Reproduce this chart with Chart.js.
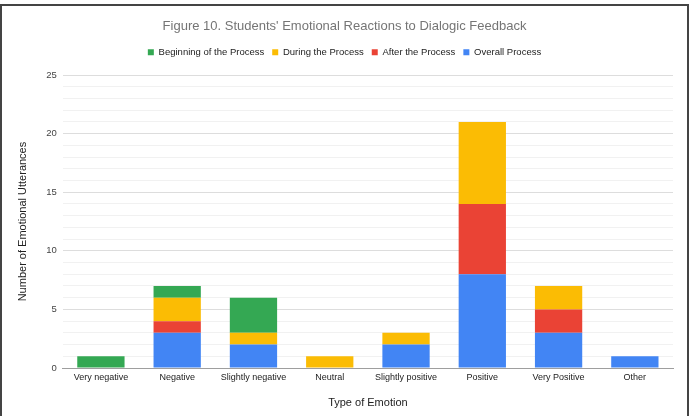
<!DOCTYPE html>
<html>
<head>
<meta charset="utf-8">
<script src="https://cdn.jsdelivr.net/npm/chart.js@4"></script>
<style>
  html, body { margin: 0; padding: 0; background: #fff; }
  #wrap { position: relative; width: 691px; height: 416px; }
  #frame {
    position: absolute; left: 0; top: 4px; width: 685px; height: 412px;
    border: 2px solid #444; border-bottom: none; pointer-events: none;
  }
</style>
</head>
<body>
<div id="wrap">
  <canvas id="emotion-chart" width="691" height="416"></canvas>
  <div id="frame"></div>
</div>
<script>
const categories = ['Very negative', 'Negative', 'Slightly negative', 'Neutral',
  'Slightly positive', 'Positive', 'Very Positive', 'Other'];

// stacked bottom to top: overall, after, during, beginning
const overallProcess = [0, 3, 2, 0, 2, 8, 3, 1];
const afterProcess = [0, 1, 0, 0, 0, 6, 2, 0];
const duringProcess = [0, 2, 1, 1, 1, 7, 2, 0];
const beginningProcess = [1, 1, 3, 0, 0, 0, 0, 0];

const yTicks = [0, 5, 10, 15, 20, 25];

const fontFamily = '"Liberation Sans", Arial, sans-serif';

// a bit of extra room below the legend
const legendMargin = {
    id: 'legendMargin',
    beforeInit(chart) {
        const fit = chart.legend.fit;
        chart.legend.fit = function() {
            fit.bind(chart.legend)();
            this.height += 8;
        };
    }
};

function initializeChart() {
    const ctx = document.getElementById('emotion-chart').getContext('2d');
    new Chart(ctx, {
        type: 'bar',
        data: {
            labels: categories,
            datasets: [
                { label: 'Beginning of the Process', data: beginningProcess, backgroundColor: '#34A853', order: 4 },
                { label: 'During the Process', data: duringProcess, backgroundColor: '#FBBC04', order: 3 },
                { label: 'After the Process', data: afterProcess, backgroundColor: '#EA4335', order: 2 },
                { label: 'Overall Process', data: overallProcess, backgroundColor: '#4285F4', order: 1 }
            ]
        },
        options: {
            responsive: false,
            animation: false,
            layout: {
                padding: { left: 16, right: 18, top: 10, bottom: 6 }
            },
            datasets: {
                bar: {
                    barPercentage: 0.62,
                    categoryPercentage: 1,
                    borderWidth: 0
                }
            },
            scales: {
                x: {
                    stacked: true,
                    grid: { display: false, drawTicks: false },
                    border: { color: '#9e9e9e', width: 1 },
                    ticks: { color: '#222', font: { family: fontFamily, size: 9 }, padding: 4, maxRotation: 0, autoSkip: false },
                    title: {
                        display: true,
                        text: 'Type of Emotion',
                        color: '#222',
                        font: { family: fontFamily, size: 11 },
                        padding: { top: 10, bottom: 0 }
                    }
                },
                y: {
                    stacked: true,
                    min: yTicks[0],
                    max: yTicks[yTicks.length - 1],
                    border: { display: false },
                    grid: {
                        drawTicks: false,
                        color: c => c.tick.value === 0 ? '#9e9e9e' : (c.tick.value % 5 === 0 ? '#dddddd' : '#f1f1f1'),
                        lineWidth: 1
                    },
                    ticks: {
                        stepSize: 1,
                        autoSkip: false,
                        padding: 6,
                        color: '#444',
                        font: { family: fontFamily, size: 9.5 },
                        callback: v => yTicks.includes(v) ? v : ''
                    },
                    title: {
                        display: true,
                        text: 'Number of Emotional Utterances',
                        color: '#222',
                        font: { family: fontFamily, size: 11 },
                        padding: { top: 0, bottom: 11 }
                    }
                }
            },
            plugins: {
                title: {
                    display: true,
                    text: "Figure 10. Students' Emotional Reactions to Dialogic Feedback",
                    color: '#757575',
                    font: { family: fontFamily, size: 13, weight: 'normal' },
                    padding: { top: 9, bottom: 5 }
                },
                legend: {
                    display: true,
                    labels: {
                        boxWidth: 6,
                        boxHeight: 6,
                        color: '#222',
                        font: { family: fontFamily, size: 9.5 },
                        padding: 8,
                        sort: (a, b) => a.datasetIndex - b.datasetIndex
                    }
                },
                tooltip: { enabled: false }
            }
        },
        plugins: [legendMargin]
    });
}

window.onload = function() {
    initializeChart();
};
</script>
</body>
</html>
